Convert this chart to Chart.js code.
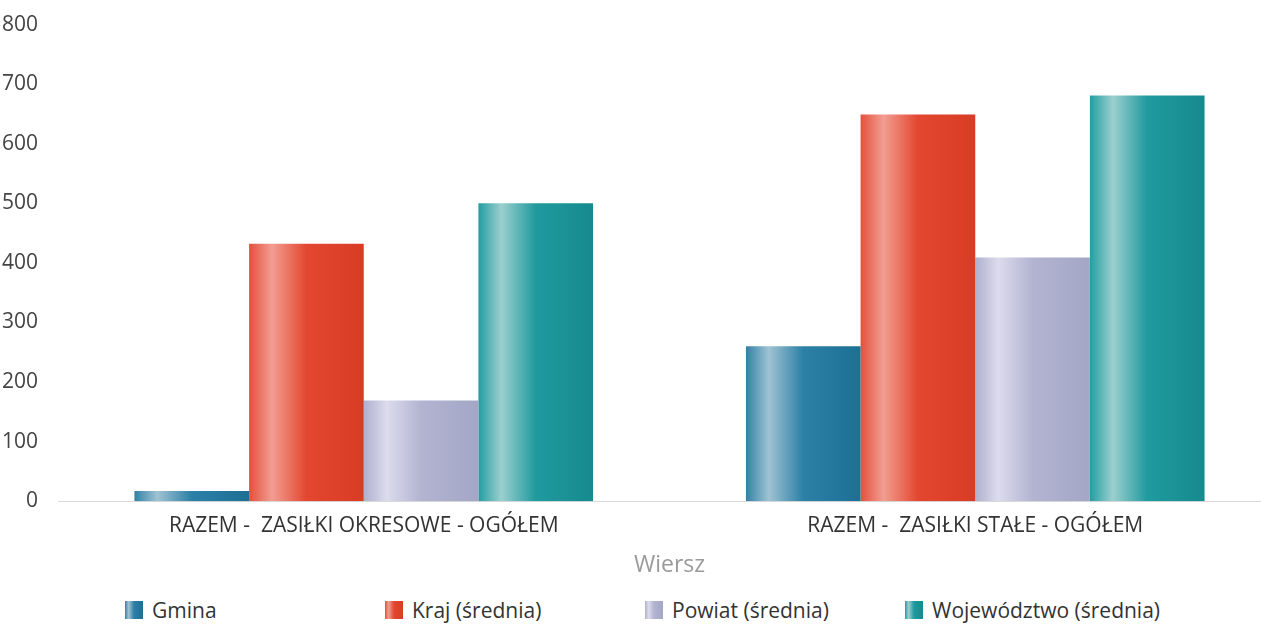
<!DOCTYPE html>
<html>
<head>
<meta charset="utf-8">
<script src="https://cdn.jsdelivr.net/npm/chart.js@4/dist/chart.umd.min.js"></script>
<style>
    html, body { margin: 0; padding: 0; background: #fff; overflow: hidden; }
    #wrap { position: relative; width: 1281px; height: 585px; }
    #legend { position: absolute; top: 596px; left: 125px; display: flex; font-family: "Open Sans", sans-serif; font-size: 21px; color: #333; }
    .item { width: 260px; display: flex; align-items: center; }
    .box { width: 18px; height: 18px; margin-right: 9px; }
</style>
</head>
<body>
<div id="wrap"><canvas id="chart" width="1281" height="585"></canvas></div>
<div id="legend"></div>
<script>
const categories = ['RAZEM -  ZASIŁKI OKRESOWE - OGÓŁEM', 'RAZEM -  ZASIŁKI STAŁE - OGÓŁEM'];
const seriesNames = ['Gmina', 'Kraj (średnia)', 'Powiat (średnia)', 'Województwo (średnia)'];
const gmina = [17, 260];
const kraj = [432, 649];
const powiat = [169, 409];
const wojewodztwo = [500, 681];
const yTicks = [0, 100, 200, 300, 400, 500, 600, 700, 800];

// colour stops for the shaded bars: left edge, highlight, body, right edge
const shades = [
    ['#3181a6', '#9fc3d3', '#2c80a6', '#1d6f94'],
    ['#e4503c', '#f29d92', '#e3472f', '#d83c24'],
    ['#aeb0cd', '#dcdced', '#b2b4d1', '#a4a6c6'],
    ['#229ea1', '#9ccfcf', '#1f9a9e', '#168a8e']
];

const seriesData = [gmina, kraj, powiat, wojewodztwo];

function makeGradient(ctx, left, width, s) {
    const g = ctx.createLinearGradient(left, 0, left + width, 0);
    g.addColorStop(0, s[0]);
    g.addColorStop(0.2, s[1]);
    g.addColorStop(0.5, s[2]);
    g.addColorStop(1, s[3]);
    return g;
}

const shadedBars = {
    id: 'shadedBars',
    beforeDatasetsDraw(chart) {
        chart.data.datasets.forEach(function(ds, i) {
            chart.getDatasetMeta(i).data.forEach(function(el) {
                const p = el.getProps(['x', 'width'], true);
                const g = makeGradient(chart.ctx, p.x - p.width / 2, p.width, shades[i]);
                el.options = Object.assign({}, el.options, { backgroundColor: g });
            });
        });
    }
};

const ctx = document.getElementById('chart').getContext('2d');
const chart = new Chart(ctx, {
    type: 'bar',
    data: {
        labels: categories,
        datasets: seriesNames.map(function(name, i) {
            return {
                label: name,
                data: seriesData[i],
                backgroundColor: shades[i][2],
                borderWidth: 0,
                categoryPercentage: 0.75,
                barPercentage: 1
            };
        })
    },
    options: {
        responsive: false,
        animation: false,
        layout: { padding: { top: 12, right: 0, left: 0, bottom: 0 } },
        plugins: {
            legend: { display: false },
            tooltip: { enabled: false }
        },
        scales: {
            x: {
                grid: { display: false },
                border: { color: '#d9d9d9', width: 1 },
                ticks: { color: '#333', font: { family: 'Open Sans', size: 21 }, padding: 4 },
                title: { display: true, text: 'Wiersz', color: '#9a9a9a', font: { family: 'Open Sans', size: 23 }, padding: { top: 9, bottom: 6 } }
            },
            y: {
                min: 0,
                max: 800,
                afterBuildTicks: function(scale) { scale.ticks = yTicks.map(function(v) { return { value: v }; }); },
                afterFit: function(scale) { scale.width = 58; },
                grid: { display: false },
                border: { display: false },
                ticks: { color: '#444', font: { family: 'Open Sans', size: 21 }, padding: 12 }
            }
        }
    },
    plugins: [shadedBars]
});

// legend under the chart, evenly spaced like the original
const legend = document.getElementById('legend');
seriesNames.forEach(function(name, i) {
    const item = document.createElement('div');
    item.className = 'item';
    const box = document.createElement('span');
    box.className = 'box';
    const s = shades[i];
    box.style.background = 'linear-gradient(to right, ' + s[0] + ' 0%, ' + s[1] + ' 20%, ' + s[2] + ' 50%, ' + s[3] + ' 100%)';
    const txt = document.createElement('span');
    txt.textContent = name;
    item.appendChild(box);
    item.appendChild(txt);
    legend.appendChild(item);
});
</script>
</body>
</html>
